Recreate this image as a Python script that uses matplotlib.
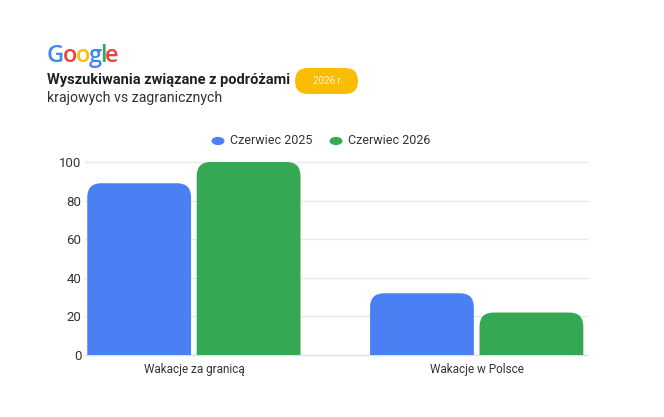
import matplotlib
matplotlib.use("Agg")
import matplotlib.pyplot as plt
from matplotlib.patches import FancyBboxPatch, Circle
import numpy as np

plt.rcParams['font.family'] = ['Roboto', 'DejaVu Sans']

categories = ["Wakacje za granicą", "Wakacje w Polsce"]
series_names = ["Czerwiec 2025", "Czerwiec 2026"]
values_2025 = [89, 32]
values_2026 = [100, 22]
yticks = [0, 20, 40, 60, 80, 100]
colors = ["#4a80f3", "#34a853"]

W, H = 664, 417
fig = plt.figure(figsize=(W / 100, H / 100), dpi=100)
fig.patch.set_facecolor("white")

ax = fig.add_axes([85 / W, 1 - 355 / H, (587 - 85) / W, (355 - 162) / H])
ax.set_xlim(-0.385, 1.39)
ax.set_ylim(0, 100)

x = np.arange(len(categories))
bw = 0.367
gap = 0.01
all_bars = []
for i, (vals, c) in enumerate(zip([values_2025, values_2026], colors)):
    offs = (-bw / 2 - gap) if i == 0 else (bw / 2 + gap)
    bars = ax.bar(x + offs, vals, width=bw, color=c, zorder=3)
    all_bars.append(bars)

# replace with rounded-top bars
px_per_x = (587 - 85) / (1.39 + 0.385)
px_per_y = (355 - 162) / 100
r_px = 14
rx = r_px / px_per_x
ry = r_px / px_per_y
for bars in all_bars:
    for b in bars:
        b.set_visible(False)
        bx, by, bwid, bh = b.get_x(), b.get_y(), b.get_width(), b.get_height()
        p = FancyBboxPatch((bx, by - ry), bwid, bh + ry,
                           boxstyle=f"round,pad=0,rounding_size={rx}",
                           mutation_aspect=ry / rx,
                           facecolor=b.get_facecolor(), edgecolor="none",
                           zorder=3, clip_on=True)
        ax.add_patch(p)

ax.set_yticks(yticks)
ax.set_yticklabels([str(t) for t in yticks])
ax.grid(axis="y", color="#e8e8e8", linewidth=1, zorder=0)
for t in ax.yaxis.get_gridlines():
    t.set_clip_on(False)
for s in ["top", "right", "left"]:
    ax.spines[s].set_visible(False)
ax.spines["bottom"].set_color("#e0e0e0")
ax.tick_params(axis="y", length=0, pad=2.5, labelsize=9.5, labelcolor="#333333")
ax.tick_params(axis="x", length=0, pad=6, labelsize=8.5, labelcolor="#333333")
ax.set_xticks(x)
ax.set_xticklabels(categories)

# legend
leg_items = [(218, 141, series_names[0], colors[0]), (336, 141, series_names[1], colors[1])]
for cx, cy, name, c in leg_items:
    fig.patches.append(Circle((cx / W, 1 - cy / H), 6.5 / W, transform=fig.transFigure,
                              facecolor=c, edgecolor="none"))
    fig.text((cx + 12) / W, 1 - cy / H, name, fontsize=9, color="#333333",
             va="center", ha="left")

# Google logo
logo = "Google"
logo_colors = ["#4285F4", "#EA4335", "#FBBC05", "#4285F4", "#34A853", "#EA4335"]
fig.canvas.draw()
renderer = fig.canvas.get_renderer()
xpos = 47
for ch, c in zip(logo, logo_colors):
    t = fig.text(xpos / W, 1 - 62 / H, ch, fontsize=17, color=c, va="baseline",
                 ha="left", fontweight="semibold", fontfamily=["Open Sans", "DejaVu Sans"])
    bb = t.get_window_extent(renderer=renderer)
    xpos += bb.width - 1.5

# title
fig.text(47 / W, 1 - 80 / H, "Wyszukiwania związane z podróżami", fontsize=10.5,
         fontweight="bold", color="#202124", va="center", ha="left")
fig.text(47 / W, 1 - 98 / H, "krajowych vs zagranicznych", fontsize=10.2,
         color="#333333", va="center", ha="left")

# badge
badge = FancyBboxPatch((295 / W, 1 - 94 / H), 63 / W, 26 / H,
                       boxstyle=f"round,pad=0,rounding_size={13 / W}",
                       mutation_aspect=W / H,
                       transform=fig.transFigure, facecolor="#FBBC04", edgecolor="none")
fig.patches.append(badge)
fig.text(328 / W, 1 - 81 / H, "2026 r.", fontsize=7, color="#fff6dc",
         va="center", ha="center")

fig.savefig("out.png", dpi=100, facecolor="white")
